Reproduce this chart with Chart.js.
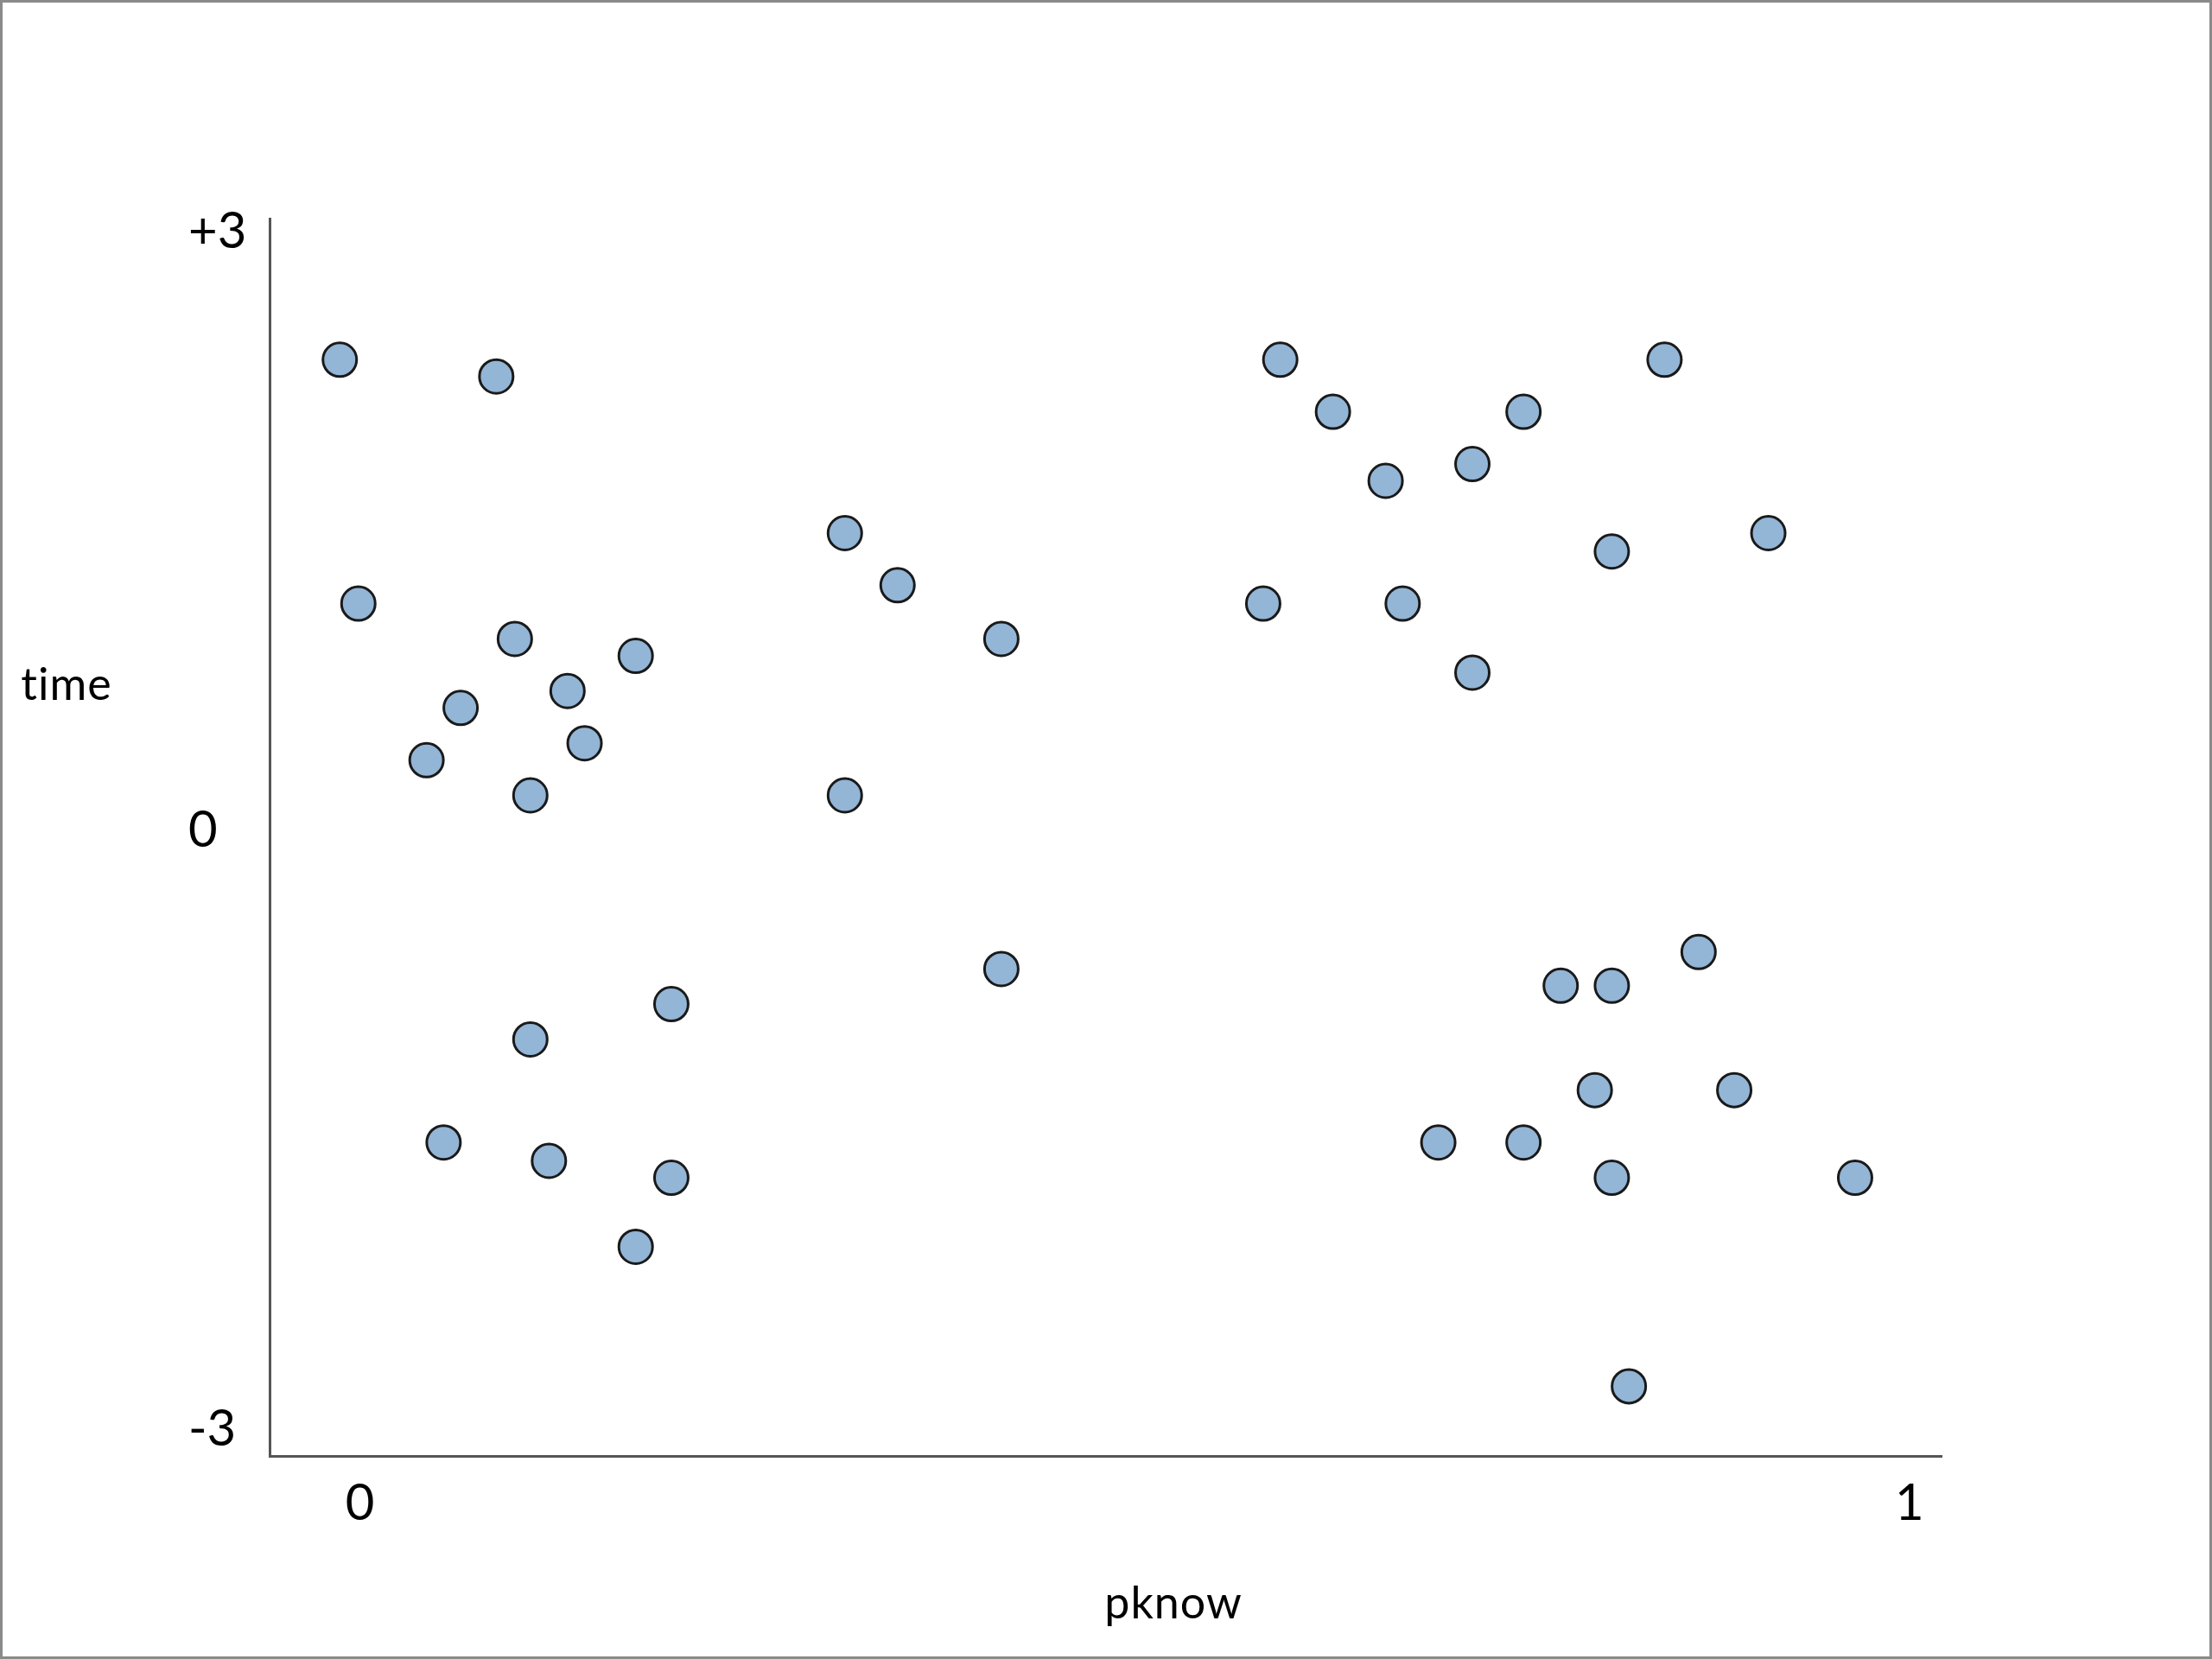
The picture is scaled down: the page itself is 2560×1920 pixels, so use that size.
<!DOCTYPE html>
<html>
<head>
<meta charset="utf-8">
<script src="https://cdn.jsdelivr.net/npm/chart.js@4"></script>
<style>
  html, body { margin: 0; padding: 0; background: #ffffff; }
  #wrap { width: 2560px; height: 1920px; position: relative; }
  canvas { display: block; }
</style>
</head>
<body>
<div id="wrap"><canvas id="c" width="2560" height="1920"></canvas></div>
<script>
// ---- data ----
const pknowValues = [
  -0.013, 0.088, -0.001, 0.100, 0.178, 0.065, 0.134, 0.043, 0.145, 0.110,
  0.313, 0.347, 0.414, 0.313, 0.414, 0.201, 0.110, 0.054, 0.122, 0.201, 0.178,
  0.594, 0.628, 0.751, 0.662, 0.718, 0.842, 0.808, 0.909, 0.583, 0.673, 0.718,
  0.864, 0.775, 0.808, 0.797, 0.887, 0.696, 0.751, 0.808, 0.965, 0.819
];
const timeValues = [
  2.36, 2.276, 1.138, 0.961, 0.876, 0.615, 0.700, 0.353, 0.438, 0.177,
  1.491, 1.230, 0.961, 0.177, -0.693, -0.869, -1.046, -1.562, -1.654, -1.739, -2.085,
  2.36, 2.099, 2.099, 1.753, 1.837, 2.36, 1.399, 1.491, 1.138, 1.138, 0.792,
  -0.608, -0.777, -0.777, -1.300, -1.300, -1.562, -1.562, -1.739, -1.739, -2.784
];
const xTickValues = [0, 1];
const xTickLabels = ['0', '1'];
const yTickValues = [-3, 0, 3];
const yTickLabels = ['-3', '0', '+3'];
const xTitle = 'pknow';
const yTitle = 'time';

const points = pknowValues.map((x, i) => ({ x: x, y: timeValues[i] }));

const FONT = 'Lato, "Open Sans", sans-serif';

const decorPlugin = {
  id: 'decor',
  beforeDraw(chart) {
    const ctx = chart.ctx;
    ctx.save();
    ctx.fillStyle = '#ffffff';
    ctx.fillRect(0, 0, chart.width, chart.height);
    ctx.strokeStyle = '#8a8a8a';
    ctx.lineWidth = 3;
    ctx.strokeRect(1.5, 1.5, chart.width - 3, chart.height - 3);
    ctx.restore();
  },
  afterDraw(chart) {
    const ctx = chart.ctx;
    ctx.save();
    ctx.fillStyle = '#000000';
    ctx.font = '52px ' + FONT;
    if ('letterSpacing' in ctx) ctx.letterSpacing = '1px';
    ctx.textBaseline = 'middle';
    ctx.textAlign = 'center';
    ctx.fillText(yTitle, 77, 793);
    ctx.fillText(xTitle, 1358, 1856);
    ctx.restore();
  }
};

new Chart(document.getElementById('c'), {
  type: 'scatter',
  data: {
    datasets: [{
      data: points,
      backgroundColor: '#93b5d6',
      borderColor: '#1a1a1a',
      borderWidth: 3,
      pointRadius: 19.5,
      pointHoverRadius: 19.5
    }]
  },
  options: {
    responsive: false,
    animation: false,
    devicePixelRatio: 1,
    layout: { padding: { left: 218, top: 253, right: 313, bottom: 0 } },
    plugins: { legend: { display: false }, tooltip: { enabled: false } },
    scales: {
      x: {
        type: 'linear',
        min: -0.0583,
        max: 1.0208,
        afterBuildTicks(scale) { scale.ticks = xTickValues.map(v => ({ value: v })); },
        afterFit(scale) { scale.height = 1920 - 1685; },
        grid: { display: false, drawTicks: false, tickLength: 0 },
        border: { display: true, color: '#555555', width: 3 },
        ticks: {
          padding: 20,
          color: '#000000',
          font: { family: FONT, size: 58 },
          maxRotation: 0,
          autoSkip: false,
          callback(value) { const i = xTickValues.indexOf(value); return i >= 0 ? xTickLabels[i] : ''; }
        }
      },
      y: {
        type: 'linear',
        min: -3.133,
        max: 3.067,
        afterBuildTicks(scale) { scale.ticks = yTickValues.map(v => ({ value: v })); },
        afterFit(scale) { scale.width = 312 - 218; },
        grid: { display: false, drawTicks: false, tickLength: 0 },
        border: { display: true, color: '#555555', width: 3 },
        ticks: {
          crossAlign: 'far',
          padding: 10,
          color: '#000000',
          font: { family: FONT, size: 58 },
          autoSkip: false,
          callback(value) { const i = yTickValues.indexOf(value); return i >= 0 ? yTickLabels[i] : ''; }
        }
      }
    }
  },
  plugins: [decorPlugin]
});
</script>
</body>
</html>
